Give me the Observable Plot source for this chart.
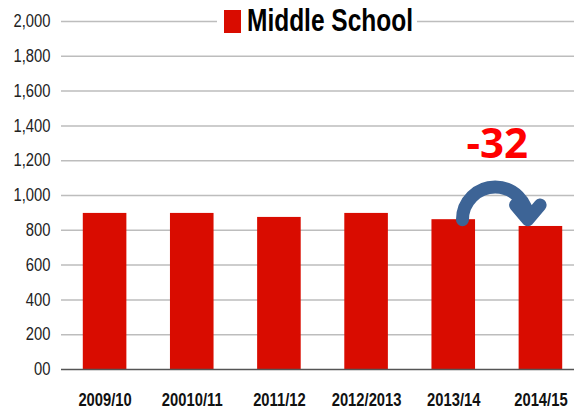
<!DOCTYPE html>
<html>
<head>
<meta charset="utf-8">
<script src="https://cdn.jsdelivr.net/npm/d3@7"></script>
<script src="https://cdn.jsdelivr.net/npm/@observablehq/plot@0.6"></script>
<style>
  html, body { margin: 0; padding: 0; background: #fff; }
  #wrap { position: relative; width: 574px; height: 411px; overflow: hidden; }
  #legend {
    position: absolute; left: 217px; top: 4px; width: 200px; height: 34px;
    background: #fff; display: flex; align-items: center; padding-left: 7px;
    box-sizing: border-box;
    font-family: "Liberation Sans", Arial, sans-serif;
    font-weight: bold; font-size: 31px; color: #000; white-space: nowrap;
  }
  #legend .sw { width: 17px; height: 23px; background: #d90c00; flex: none; margin-right: 6px; }
  #legend .tx { display: inline-block; transform: scaleX(0.79); transform-origin: left center; }
</style>
</head>
<body>
<div id="wrap"></div>
<script>
const categories = ["2009/10", "20010/11", "2011/12", "2012/2013", "2013/14", "2014/15"];
const values = [897, 897, 874, 897, 861, 822];
const yTicks = [0, 200, 400, 600, 800, 1000, 1200, 1400, 1600, 1800, 2000];
const yTickLabels = ["00", "200", "400", "600", "800", "1,000", "1,200", "1,400", "1,600", "1,800", "2,000"];
const seriesName = "Middle School";
const changeLabel = "-32";

const data = categories.map((c, i) => ({i, c, v: values[i]}));
const sans = '"Liberation Sans", Arial, sans-serif';

const chart = Plot.plot({
  width: 574,
  height: 411,
  marginLeft: 61,
  marginRight: 0,
  marginTop: 21,
  marginBottom: 42,
  style: {fontFamily: sans, fontSize: "18px", color: "#222", background: "#fff"},
  x: {domain: [-0.5, 5.5], range: [61, 584], axis: null},
  y: {
    domain: [0, 2000],
    ticks: yTicks,
    tickFormat: d => yTickLabels[yTicks.indexOf(d)],
    tickSize: 0,
    tickPadding: 11,
    label: null
  },
  marks: [
    Plot.ruleY(yTicks.filter(d => d > 0), {stroke: "#bdbdbd", strokeWidth: 1.5}),
    Plot.rectY(data, {x1: d => d.i - 0.25, x2: d => d.i + 0.25, y: "v", fill: "#d90c00"}),
    Plot.ruleY([0], {stroke: "#555", strokeWidth: 1.5}),
    Plot.text(data, {x: "i", y: 0, text: "c", dy: 31, fontWeight: "bold", fontSize: 18, fontFamily: sans, fill: "#111"}),
    Plot.arrow([values[4]], {
      x1: () => 4.1, y1: d => d, x2: () => 4.85, y2: d => d,
      bend: 90, stroke: "#3d6496", strokeWidth: 13, headLength: 2.2, headAngle: 80
    }),
    Plot.text([changeLabel], {x: () => 4.5, y: () => 1290, text: d => d, fill: "#ff0000",
      fontSize: 42, fontWeight: "bold", fontFamily: '"Open Sans", sans-serif'})
  ]
});

const wrap = document.getElementById("wrap");
wrap.appendChild(chart);

// condense axis texts to mimic a narrow typeface
const svgEl = chart.tagName.toLowerCase() === "svg" ? chart : chart.querySelector("svg");
svgEl.querySelectorAll("text").forEach(t => {
  if (t.textContent === changeLabel) return;
  const w = t.getComputedTextLength();
  t.setAttribute("textLength", (w * 0.82).toFixed(2));
  t.setAttribute("lengthAdjust", "spacingAndGlyphs");
});

const legend = document.createElement("div");
legend.id = "legend";
legend.innerHTML = '<span class="sw"></span><span class="tx"></span>';
legend.lastChild.textContent = seriesName;
wrap.appendChild(legend);
</script>
</body>
</html>
